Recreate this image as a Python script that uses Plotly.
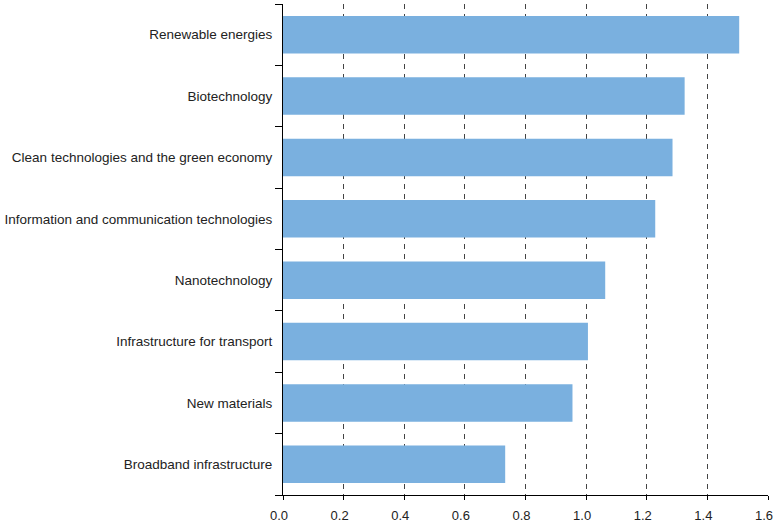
import plotly.graph_objects as go

categories = [
    "Renewable energies",
    "Biotechnology",
    "Clean technologies and the green economy",
    "Information and communication technologies",
    "Nanotechnology",
    "Infrastructure for transport",
    "New materials",
    "Broadband infrastructure",
]
values = [1.505, 1.325, 1.285, 1.228, 1.063, 1.006, 0.955, 0.733]
x_ticks = [0.0, 0.2, 0.4, 0.6, 0.8, 1.0, 1.2, 1.4, 1.6]
x_tick_labels = ["0.0", "0.2", "0.4", "0.6", "0.8", "1.0", "1.2", "1.4", "1.6"]

fig = go.Figure(go.Bar(
    x=values,
    y=categories,
    orientation="h",
    marker=dict(color="#7AB0DF", line=dict(width=0)),
    width=0.61,
))

fig.update_layout(
    width=775, height=525,
    margin=dict(l=283, r=7, t=4, b=30, autoexpand=False),
    plot_bgcolor="white", paper_bgcolor="white",
    font=dict(family="Liberation Sans, Arial, sans-serif", size=13.5, color="#222"),
    showlegend=False,
)
fig.update_xaxes(
    range=[0, 1.6],
    tickvals=x_ticks, ticktext=x_tick_labels,
    showgrid=True, gridcolor="#444", griddash="5px,5px", gridwidth=1,
    showline=True, linecolor="black", linewidth=1,
    ticks="outside", ticklen=4, tickcolor="black",
    zeroline=False, automargin=False,
    ticklabeloverflow="allow",
    ticklabelshift=-4,
    ticklabelstandoff=4,
    tickfont=dict(size=13),
)
fig.update_yaxes(
    type="category",
    categoryorder="array",
    categoryarray=categories[::-1],
    showline=True, linecolor="black", linewidth=1,
    ticks="outside", ticklen=7, tickcolor="black", tickson="boundaries",
    showgrid=False, zeroline=False, automargin=False,
    ticklabelstandoff=7,
    tickfont=dict(size=13.5),
)

fig.write_html(
    "out.html",
    config={"displayModeBar": False},
    post_script="document.body.style.margin='0px';document.body.style.overflow='hidden';",
)
